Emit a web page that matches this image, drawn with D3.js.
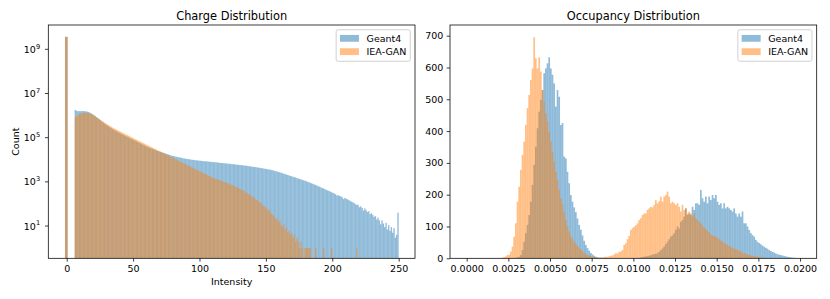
<!DOCTYPE html>
<html><head><meta charset="utf-8">
<script src="https://cdn.jsdelivr.net/npm/d3@7"></script>
<style>
body{margin:0;background:#fff;}
svg text{font-family:"DejaVu Sans",sans-serif;fill:#000;}
</style></head>
<body><svg id="c" width="830" height="299"></svg>
<script>
// ---------------- data ----------------
const seriesNames = ["Geant4", "IEA-GAN"];
const seriesColors = ["#1f77b4", "#ff7f0e"];

// Charge distribution (log-count histogram, unit-width bins)
const chargeTitle = "Charge Distribution";
const chargeXLabel = "Intensity";
const chargeYLabel = "Count";
const chargeZeroBin = [-1.3, 0.7];
const chargeZeroCounts = [3.6e9, 3.75e9];
const chargeFirstEdge = 6;
const chargeBinWidth = 1;
const chargeGeant4 = [
1.78e6,1.66e6,1.58e6,1.58e6,1.58e6,1.59e6,1.59e6,1.58e6,1.55e6,1.51e6,
1.45e6,1.35e6,1.26e6,1.15e6,1.05e6,9.5e5,8.5e5,7.6e5,6.8e5,6.0e5,
5.4e5,4.8e5,4.3e5,3.9e5,3.55e5,3.24e5,2.95e5,2.69e5,2.45e5,2.29e5,
2.09e5,1.95e5,1.82e5,1.66e5,1.55e5,1.45e5,1.35e5,1.26e5,1.17e5,1.10e5,
1.02e5,9.5e4,8.9e4,8.3e4,7.8e4,7.2e4,6.8e4,6.3e4,5.9e4,5.5e4,
5.1e4,4.8e4,4.5e4,4.2e4,3.9e4,3.7e4,3.5e4,3.3e4,3.1e4,2.95e4,
2.82e4,2.63e4,2.51e4,2.40e4,2.29e4,2.19e4,2.09e4,2.0e4,1.91e4,1.82e4,
1.74e4,1.66e4,1.58e4,1.51e4,1.48e4,1.41e4,1.38e4,1.32e4,1.29e4,1.26e4,
1.23e4,1.17e4,1.15e4,1.12e4,1.10e4,1.07e4,1.05e4,1.02e4,1.0e4,9.8e3,
9.5e3,9.5e3,9.3e3,9.1e3,9.1e3,8.9e3,8.7e3,8.7e3,8.5e3,8.5e3,
8.3e3,8.1e3,8.1e3,7.9e3,7.8e3,7.8e3,7.6e3,7.6e3,7.4e3,7.2e3,
7.2e3,7.1e3,6.9e3,6.9e3,6.8e3,6.6e3,6.6e3,6.5e3,6.3e3,6.3e3,
6.2e3,6.0e3,6.0e3,5.9e3,5.75e3,5.75e3,5.6e3,5.5e3,5.4e3,5.4e3,
5.25e3,5.1e3,5.0e3,4.9e3,4.8e3,4.7e3,4.6e3,4.5e3,4.4e3,4.3e3,
4.2e3,4.1e3,4.0e3,3.9e3,3.8e3,3.7e3,3.6e3,3.55e3,3.4e3,3.3e3,
3.16e3,3.0e3,2.95e3,2.8e3,2.7e3,2.6e3,2.45e3,2.35e3,2.24e3,2.14e3,
2.04e3,1.95e3,1.86e3,1.78e3,1.70e3,1.62e3,1.55e3,1.48e3,1.41e3,1.35e3,
1.29e3,1.23e3,1.17e3,1.12e3,1.07e3,1.0e3,955,912,851,813,
759,724,676,631,603,562,525,501,468,437,
407,389,363,339,316,295,275,240,251,229,
219,204,166,186,174,162,148,138,126,120,
110,95,93,89,71,79,66,50,63,52,
43,47,35,38,32,26,28,20,24,18,
12,18,13,9,14,7,11,6,9,5,
8,3,4,40];
const chargeIEAGAN = [
8.3e5,9.3e5,1.05e6,1.15e6,1.23e6,1.29e6,1.32e6,1.35e6,1.35e6,1.32e6,
1.29e6,1.23e6,1.17e6,1.10e6,1.0e6,9.1e5,8.3e5,7.6e5,6.9e5,6.3e5,
5.75e5,5.25e5,4.8e5,4.4e5,4.0e5,3.7e5,3.4e5,3.16e5,2.9e5,2.7e5,
2.5e5,2.3e5,2.14e5,2.0e5,1.86e5,1.74e5,1.62e5,1.51e5,1.41e5,1.32e5,
1.23e5,1.15e5,1.07e5,1.0e5,9.3e4,8.7e4,8.1e4,7.6e4,7.1e4,6.6e4,
6.2e4,5.75e4,5.4e4,5.0e4,4.7e4,4.4e4,4.1e4,3.8e4,3.55e4,3.3e4,
3.1e4,2.9e4,2.7e4,2.5e4,2.35e4,2.19e4,2.04e4,1.91e4,1.78e4,1.66e4,
1.55e4,1.45e4,1.35e4,1.26e4,1.17e4,1.10e4,1.02e4,9.5e3,8.9e3,8.3e3,
7.8e3,7.2e3,6.8e3,6.3e3,5.9e3,5.5e3,5.1e3,4.8e3,4.5e3,4.2e3,
3.9e3,3.6e3,3.4e3,3.16e3,2.95e3,2.75e3,2.57e3,2.40e3,2.24e3,2.09e3,
1.95e3,1.82e3,1.70e3,1.58e3,1.51e3,1.41e3,1.35e3,1.29e3,1.23e3,1.17e3,
1.12e3,1.05e3,1.0e3,955,912,871,813,759,724,676,
631,575,575,513,490,427,417,398,316,339,
282,263,251,200,214,178,158,151,132,112,
120,89,83,71,63,50,58,42,35,30,
26,20,23,15,18,11,9,12,7,9,
5,6,4,5,3,4,2,3,2,1,
2,1,0,1,1,1,1,1,0,0,
0,1,0,0,0,0,0,1,0,0,
0,0,0,1,0,0,0,0,0,0,
0,0,0,0,0,0,0,0,0,0,
0,0,1,0,0,0,0,0,0,0,
0,0,0,0,0,0,0,0,0,0,
0,0,0,0,0,0,0,0,0,0,
0,0,0,0];
const chargeXTicks = [0, 50, 100, 150, 200, 250];
const chargeYTicks = [1e1, 1e3, 1e5, 1e7, 1e9];

// Occupancy distribution (linear-count histogram, 200 bins on [0, 0.02])
const occTitle = "Occupancy Distribution";
const occFirstEdge = 0;
const occBinWidth = 0.0001;
const occGeant4 = [
0,0,0,0,0,0,0,0,0,0,
0,0,0,0,0,0,0,0,0,0,
0,0,0,0,0,0,0,0,1,2,
3,5,10,26,52,79,105,136,178,231,
294,351,409,461,498,529,582,597,613,632,
597,577,550,477,529,508,419,425,320,314,
272,236,199,178,160,145,125,105,90,72,
55,42,32,24,17,12,8,5,3,2,
1,0,0,0,0,0,0,0,0,0,
0,0,0,0,0,0,0,0,0,0,
1,0,2,1,3,4,5,6,7,8,
10,12,13,14,16,20,26,31,37,45,
52,60,68,72,79,90,100,94,115,120,
131,157,136,141,136,162,152,173,173,168,
215,189,178,194,173,194,183,199,189,199,
178,168,173,157,173,157,162,157,152,147,
157,141,131,141,131,147,110,110,100,89,
79,73,68,58,52,48,44,40,36,33,
30,26,23,20,18,15,13,11,10,9,
7,6,5,4,3,2,2,1,1,0];
const occIEAGAN = [
0,0,0,0,0,0,0,0,0,0,
0,0,0,0,0,0,0,0,0,0,
1,2,4,6,10,11,21,37,68,110,
178,225,278,325,367,419,472,514,561,597,
695,629,597,632,587,529,493,456,430,398,
367,335,304,272,246,215,189,170,145,120,
100,85,70,60,52,46,39,33,27,22,
17,13,10,8,6,5,4,3,2,2,
3,3,4,5,5,6,8,9,12,16,
15,20,21,26,42,47,60,70,89,95,
99,104,110,120,126,136,141,141,152,157,
162,160,168,183,173,180,194,178,194,199,
210,194,173,178,173,168,173,162,147,168,
152,157,141,147,141,131,141,126,120,115,
110,102,97,92,86,82,76,72,70,68,
64,60,56,52,48,45,42,39,36,34,
31,28,26,23,21,18,16,14,12,11,
9,8,7,6,5,4,3,2,1,1,
0,0,0,0,0,0,0,0,0,0,
0,0,0,0,0,0,0,0,0,0];
const occXTicks = [0, 0.0025, 0.005, 0.0075, 0.01, 0.0125, 0.015, 0.0175, 0.02];
const occYTicks = [0, 100, 200, 300, 400, 500, 600, 700];

// ---------------- layout ----------------
const FS = 9.5, TITLE_FS = 11.4, LW = 0.76, TICK = 3.33, PAD = 3.33;
const plotTop = 25, plotBottom = 258.3;
const leftBox = {x0: 48.3, x1: 415};
const rightBox = {x0: 450, x1: 816.7};

const svg = d3.select("#c");

function frame(g, box) {
  g.append("rect").attr("x", box.x0).attr("y", plotTop)
    .attr("width", box.x1 - box.x0).attr("height", plotBottom - plotTop)
    .attr("fill", "none").attr("stroke", "#000").attr("stroke-width", LW);
}

function drawBars(g, xs, ys, edges, counts, color, clipId, yBase) {
  const bins = counts.map((c, i) => ({x0: edges(i), x1: edges(i + 1), c})).filter(d => d.c > 0);
  g.append("g").attr("clip-path", `url(#${clipId})`)
    .selectAll("rect").data(bins).join("rect")
    .attr("x", d => xs(d.x0))
    .attr("width", d => xs(d.x1) - xs(d.x0))
    .attr("y", d => ys(d.c))
    .attr("height", d => yBase - ys(d.c))
    .attr("fill", color).attr("fill-opacity", 0.5);
}

function clip(id, box) {
  svg.append("defs").append("clipPath").attr("id", id)
    .append("rect").attr("x", box.x0).attr("y", plotTop)
    .attr("width", box.x1 - box.x0).attr("height", plotBottom - plotTop);
}

function xAxis(g, xs, ticks, fmt) {
  const ax = g.append("g").attr("transform", `translate(0,${plotBottom})`)
    .call(d3.axisBottom(xs).tickValues(ticks).tickSize(TICK).tickPadding(PAD).tickFormat(fmt));
  ax.select(".domain").remove();
  ax.selectAll(".tick line").attr("stroke", "#000").attr("stroke-width", LW);
  ax.selectAll(".tick text").attr("font-size", FS).attr("font-family", "DejaVu Sans")
    .attr("y", 0).attr("dy", 0).attr("transform", "translate(0,13.5)");
}

function legend(g, box) {
  const w = 3.8 + 19 + 7.6 + 39.9 + 3.8;
  const x0 = box.x1 - 4.75 - w, y0 = plotTop + 4.75;
  g.append("rect").attr("x", x0).attr("y", y0).attr("width", w).attr("height", 31.5)
    .attr("rx", 2).attr("fill", "#fff").attr("fill-opacity", 0.8)
    .attr("stroke", "#cccccc").attr("stroke-width", 0.9);
  seriesNames.forEach((name, i) => {
    const cy = y0 + 8.6 + i * 13.3;
    g.append("rect").attr("x", x0 + 3.8).attr("y", cy - 3.4).attr("width", 19).attr("height", 6.8)
      .attr("fill", seriesColors[i]).attr("fill-opacity", 0.5);
    g.append("text").attr("x", x0 + 3.8 + 19 + 7.6).attr("y", cy + 3.5)
      .attr("font-size", FS).text(name);
  });
}

// ---------------- left: charge ----------------
{
  const g = svg.append("g");
  const xs = d3.scaleLinear().domain([-13.86, 262.3]).range([leftBox.x0, leftBox.x1]);
  const ys = d3.scaleLog().domain([Math.pow(10, -0.46), Math.pow(10, 10.1)]).range([plotBottom, plotTop]);
  clip("clipL", leftBox);
  const series = [chargeGeant4, chargeIEAGAN];
  series.forEach((counts, s) => {
    drawBars(g, xs, ys, i => chargeZeroBin[i], [chargeZeroCounts[s]], seriesColors[s], "clipL", plotBottom);
    drawBars(g, xs, ys, i => chargeFirstEdge + i * chargeBinWidth, counts, seriesColors[s], "clipL", plotBottom);
  });
  frame(g, leftBox);
  xAxis(g, xs, chargeXTicks, d3.format("d"));
  const ay = g.append("g").attr("transform", `translate(${leftBox.x0},0)`);
  chargeYTicks.forEach(t => {
    const y = ys(t);
    ay.append("line").attr("x1", -TICK).attr("x2", 0).attr("y1", y).attr("y2", y)
      .attr("stroke", "#000").attr("stroke-width", LW);
    const tx = ay.append("text").attr("x", -TICK - PAD - 1.5).attr("y", y + 3.6)
      .attr("text-anchor", "end").attr("font-size", FS);
    tx.append("tspan").text("10");
    tx.append("tspan").attr("font-size", FS * 0.7).attr("dy", -4.2).text(String(Math.round(Math.log10(t))));
  });
  g.append("text").attr("x", (leftBox.x0 + leftBox.x1) / 2).attr("y", 20)
    .attr("text-anchor", "middle").attr("font-size", TITLE_FS).text(chargeTitle);
  g.append("text").attr("x", (leftBox.x0 + leftBox.x1) / 2).attr("y", 285.3)
    .attr("text-anchor", "middle").attr("font-size", FS).text(chargeXLabel);
  g.append("text").attr("transform", `translate(19,${(plotTop + plotBottom) / 2}) rotate(-90)`)
    .attr("text-anchor", "middle").attr("font-size", FS).text(chargeYLabel);
  legend(g, leftBox);
}

// ---------------- right: occupancy ----------------
{
  const g = svg.append("g");
  const xs = d3.scaleLinear().domain([-0.001, 0.021]).range([rightBox.x0, rightBox.x1]);
  const ys = d3.scaleLinear().domain([0, 733.6]).range([plotBottom, plotTop]);
  clip("clipR", rightBox);
  [occGeant4, occIEAGAN].forEach((counts, s) => {
    drawBars(g, xs, ys, i => occFirstEdge + i * occBinWidth, counts, seriesColors[s], "clipR", ys(0));
  });
  frame(g, rightBox);
  xAxis(g, xs, occXTicks, d3.format(".4f"));
  const ay = g.append("g").attr("transform", `translate(${rightBox.x0},0)`)
    .call(d3.axisLeft(ys).tickValues(occYTicks).tickSize(TICK).tickPadding(PAD).tickFormat(d3.format("d")));
  ay.select(".domain").remove();
  ay.selectAll(".tick line").attr("stroke", "#000").attr("stroke-width", LW);
  ay.selectAll(".tick text").attr("font-size", FS).attr("font-family", "DejaVu Sans");
  g.append("text").attr("x", (rightBox.x0 + rightBox.x1) / 2).attr("y", 20)
    .attr("text-anchor", "middle").attr("font-size", TITLE_FS).text(occTitle);
  legend(g, rightBox);
}
</script>
</body></html>
